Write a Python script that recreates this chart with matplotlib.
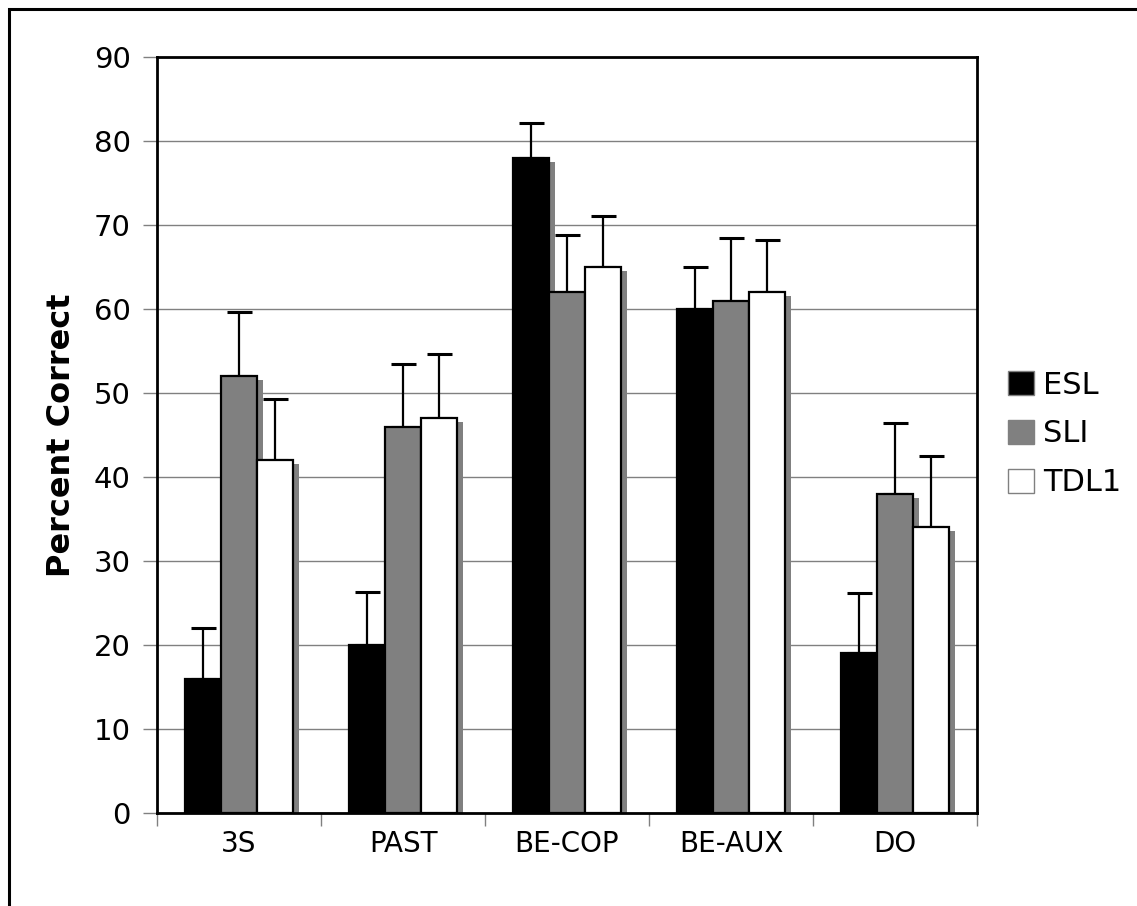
import matplotlib
matplotlib.use("Agg")
import matplotlib.pyplot as plt
from matplotlib.patches import Patch, Rectangle
import numpy as np

categories = ["3S", "PAST", "BE-COP", "BE-AUX", "DO"]
series_names = ["ESL", "SLI", "TDL1"]
esl = [16, 20, 78, 60, 19]
sli = [52, 46, 62, 61, 38]
tdl1 = [42, 47, 65, 62, 34]
esl_err = [6.0, 6.3, 4.2, 5.0, 7.2]
sli_err = [7.7, 7.5, 6.8, 7.4, 8.4]
tdl1_err = [7.3, 7.6, 6.1, 6.2, 8.5]
y_ticks = [0, 10, 20, 30, 40, 50, 60, 70, 80, 90]

values = [esl, sli, tdl1]
errors = [esl_err, sli_err, tdl1_err]
colors = ["#000000", "#808080", "#ffffff"]

W, H = 1137, 906
fig = plt.figure(figsize=(W / 100, H / 100), dpi=100)
fig.patch.set_facecolor("white")

# outer border
fig.add_artist(Rectangle((9 / W, -0.05), 1.2, (H - 9) / H + 0.05,
                         transform=fig.transFigure, fill=False,
                         edgecolor="black", linewidth=2.2))

ax = fig.add_axes([157 / W, (H - 813) / H, (977 - 157) / W, (813 - 57) / H])
x = np.arange(len(categories))
bw = 0.22
dx = 0.035
dy = 0.45

for i, (vals, errs, col) in enumerate(zip(values, errors, colors)):
    pos = x + (i - 1) * bw
    # shadow
    ax.bar(pos + dx, np.array(vals) - dy, width=bw, color="#808080",
           edgecolor="none", zorder=2 + i * 0.1)
    ax.bar(pos, vals, width=bw, color=col, edgecolor="black",
           linewidth=1.6, zorder=2.05 + i * 0.1)
    ax.errorbar(pos, vals, yerr=[np.zeros(len(vals)), errs], fmt="none",
                ecolor="black", elinewidth=1.6, capsize=9, capthick=2.2,
                zorder=1.9 + i * 0.1)

ax.set_xlim(-0.5, len(categories) - 0.5)
ax.set_ylim(0, 90)
ax.set_yticks(y_ticks)
ax.set_yticklabels([str(t) for t in y_ticks])
ax.yaxis.grid(True, color="#808080", linewidth=1.0)
ax.set_axisbelow(True)

ax.set_xticks(x)
ax.set_xticklabels(categories)
ax.set_xticks(np.arange(len(categories) + 1) - 0.5, minor=True)
ax.tick_params(axis="x", which="major", length=0, pad=12, labelsize=20)
ax.tick_params(axis="x", which="minor", length=9, color="#808080", width=1)
ax.tick_params(axis="y", which="major", length=10, color="#808080", width=1,
               pad=9, labelsize=21)

for s in ax.spines.values():
    s.set_linewidth(2.0)
    s.set_color("black")

ax.set_ylabel("Percent Correct", fontsize=23, fontweight="bold", labelpad=12)

handles = [Patch(facecolor=c, edgecolor="#808080", linewidth=1) for c in colors]
fig.legend(handles, series_names, loc="center left",
           bbox_to_anchor=(993 / W, 1 - 434 / H), frameon=False,
           fontsize=22, handlelength=0.85, handleheight=0.85,
           handletextpad=0.3, labelspacing=0.65, borderpad=0)

fig.savefig("out.png", dpi=100, facecolor="white")
